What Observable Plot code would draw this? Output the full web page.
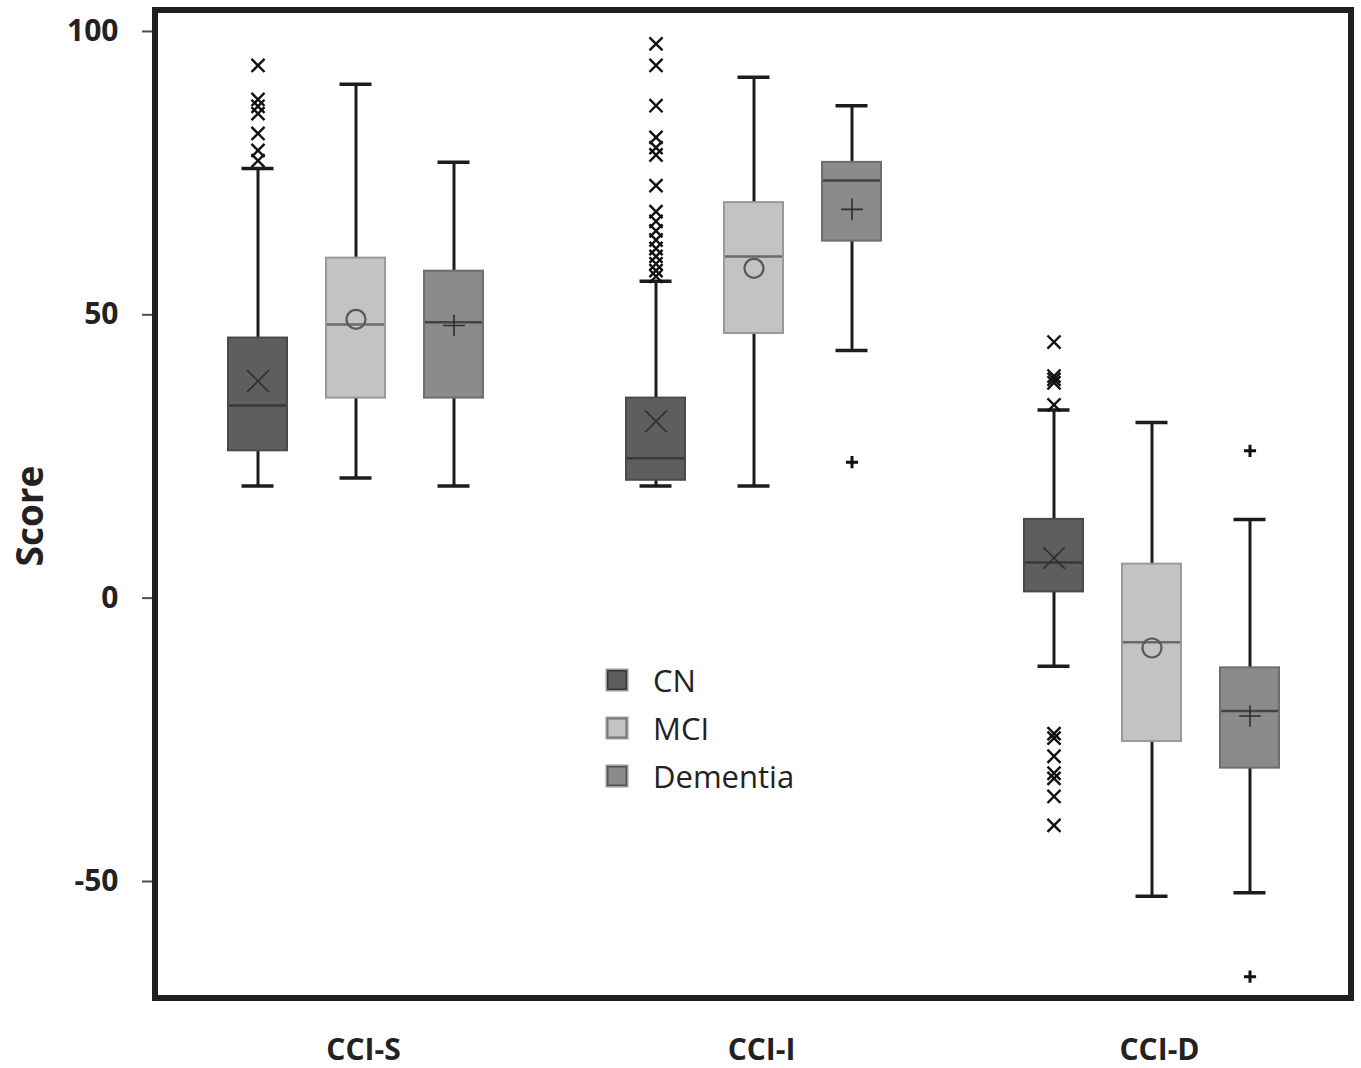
<!DOCTYPE html>
<html>
<head>
<meta charset="utf-8">
<script src="https://cdn.jsdelivr.net/npm/d3@7"></script>
<script src="https://cdn.jsdelivr.net/npm/@observablehq/plot@0.6"></script>
<style>
  body { margin: 0; background: #fff; }
  #wrap { position: relative; width: 1361px; height: 1068px; }
  #legend { position: absolute; left: 607px; top: 656px; }
  #legend > div { margin: 0 !important; }
  #legend > div > div { height: 48px; padding-bottom: 0 !important; }
  #legend svg { margin-right: 26px !important; }
  #legend svg rect { stroke: rgba(0,0,0,0.4); stroke-width: 3px; }
</style>
</head>
<body>
<div id="wrap"><div id="legend"></div></div>
<script>
// ---- data ----
const indices = ["CCI-S", "CCI-I", "CCI-D"];
const groups = ["CN", "MCI", "Dementia"];
const yTicks = [-50, 0, 50, 100];

// order: CCI-S (CN, MCI, Dementia), CCI-I (CN, MCI, Dementia), CCI-D (CN, MCI, Dementia)
const whiskerLow  = [19.8, 21.2, 19.8,  19.8, 19.8, 43.7,  -12.0, -52.6, -52.0];
const quartile1   = [26.0, 35.3, 35.3,  20.8, 46.7, 63.0,    1.1, -25.3, -30.0];
const medians     = [34.0, 48.3, 48.7,  24.7, 60.3, 73.7,    6.3,  -7.8, -19.9];
const quartile3   = [45.9, 60.0, 57.7,  35.3, 69.8, 76.9,   13.9,   6.0, -12.3];
const whiskerHigh = [75.8, 90.7, 76.9,  55.9, 91.9, 86.9,   33.2,  31.0,  13.9];
const means       = [38.3, 49.2, 48.1,  31.2, 58.2, 68.6,    7.1,  -8.8, -20.8];

const outliersCN_S = [94.0, 88.0, 86.8, 85.5, 82.0, 79.0, 77.2];
const outliersCN_I = [97.8, 94.0, 86.9, 81.3, 79.5, 78.2, 72.8, 68.2, 66.5, 64.8, 63.2, 61.7, 60.3, 59.0, 57.8, 56.8];
const outliersCN_D = [45.2, 39.2, 38.6, 38.0, 34.1, -23.9, -24.7, -27.9, -30.9, -31.8, -35.0, -40.1];
const outliersDementia_I = [24.0];
const outliersDementia_D = [26.0, -66.8];

// ---- styles ----
const fills = ["#5e5e5e", "#c3c3c3", "#8b8b8b"];
const boxStrokes = ["#4a4a4a", "#999999", "#6e6e6e"];
const medianStrokes = ["#383838", "#6a6a6a", "#454545"];
const gi = (g) => groups.indexOf(g);

// ---- tables ----
const boxes = indices.flatMap((index, i) => groups.map((group, j) => {
  const k = i * groups.length + j;
  return {index, group, lo: whiskerLow[k], q1: quartile1[k], med: medians[k],
          q3: quartile3[k], hi: whiskerHigh[k], mean: means[k]};
}));
const toRows = (index, group, values) => values.map(value => ({index, group, value}));
const outliersCN = [
  ...toRows("CCI-S", "CN", outliersCN_S),
  ...toRows("CCI-I", "CN", outliersCN_I),
  ...toRows("CCI-D", "CN", outliersCN_D)
];
const outliersDem = [
  ...toRows("CCI-I", "Dementia", outliersDementia_I),
  ...toRows("CCI-D", "Dementia", outliersDementia_D)
];

const ink = "#1c1c1c";
const pos = {fx: "index", x: "group"};

const plot = Plot.plot({
  width: 1361,
  height: 1068,
  marginLeft: 155,
  marginRight: 10,
  marginTop: 10,
  marginBottom: 70,
  fx: {domain: indices, padding: 0},
  x: {domain: groups, paddingInner: 0.4, paddingOuter: 0.724, axis: null},
  y: {domain: [-70.65, 103.7]},
  style: {fontFamily: "'Open Sans', sans-serif", color: "#222", background: "#fff", overflow: "visible"},
  marks: [
    Plot.axisY({ticks: yTicks, tickFormat: d => String(d), tickSize: 14, tickPadding: 24,
                fontSize: 30, fontWeight: "bold", stroke: "#4d4d4d", strokeWidth: 2, label: null}),
    Plot.axisFx({anchor: "bottom", tickSize: 0, tickPadding: 40, dx: 8, fontSize: 30, fontWeight: "bold", label: null}),
    Plot.text(["Score"], {fx: ["CCI-S"], text: d => d, frameAnchor: "left", rotate: -90,
                          dx: -125, dy: 62, fontSize: 37, fontWeight: "bold", fill: "#222"}),
    // whiskers
    Plot.ruleX(boxes, {...pos, y1: "lo", y2: "hi", stroke: ink, strokeWidth: 3}),
    Plot.tickY(boxes, {...pos, y: "lo", stroke: ink, strokeWidth: 3.5, inset: 13.5}),
    Plot.tickY(boxes, {...pos, y: "hi", stroke: ink, strokeWidth: 3.5, inset: 13.5}),
    // boxes
    Plot.barY(boxes, {...pos, y1: "q1", y2: "q3", fill: d => fills[gi(d.group)],
                      stroke: d => boxStrokes[gi(d.group)], strokeWidth: 2}),
    Plot.tickY(boxes, {...pos, y: "med", stroke: d => medianStrokes[gi(d.group)], strokeWidth: 2.5, inset: 1}),
    // means
    Plot.dot(boxes.filter(d => d.group === "CN"), {...pos, y: "mean", symbol: "times", r: 10, stroke: "#2e2e2e", strokeWidth: 1.6}),
    Plot.dot(boxes.filter(d => d.group === "MCI"), {...pos, y: "mean", symbol: "circle", r: 9.5, fill: "none", stroke: "#595959", strokeWidth: 2.2}),
    Plot.dot(boxes.filter(d => d.group === "Dementia"), {...pos, y: "mean", symbol: "plus", r: 7, stroke: "#2e2e2e", strokeWidth: 1.6}),
    // outliers
    Plot.dot(outliersCN, {...pos, y: "value", symbol: "times", r: 6, stroke: "#111", strokeWidth: 2.4}),
    Plot.dot(outliersDem, {...pos, y: "value", symbol: "plus", r: 4, stroke: "#111", strokeWidth: 3})
  ]
});

// outer frame around the whole plotting area, from the scales' ranges
const fxRange = (plot.scale("fx") && plot.scale("fx").range) || [155, 1351];
const yRange = plot.scale("y").range;
d3.select(plot).append("rect")
  .attr("x", Math.min(...fxRange))
  .attr("y", Math.min(...yRange))
  .attr("width", Math.abs(fxRange[1] - fxRange[0]))
  .attr("height", Math.abs(yRange[1] - yRange[0]))
  .attr("fill", "none")
  .attr("stroke", "#231f20")
  .attr("stroke-width", 6);

const wrap = document.getElementById("wrap");
wrap.insertBefore(plot, wrap.firstChild);

const legend = Plot.legend({
  color: {type: "ordinal", domain: groups, range: fills},
  legend: "swatches",
  columns: 1,
  swatchSize: 20,
  className: "leg",
  style: {fontFamily: "'Open Sans', sans-serif", fontSize: "31px", color: "#222"}
});
document.getElementById("legend").appendChild(legend);
</script>
</body>
</html>
